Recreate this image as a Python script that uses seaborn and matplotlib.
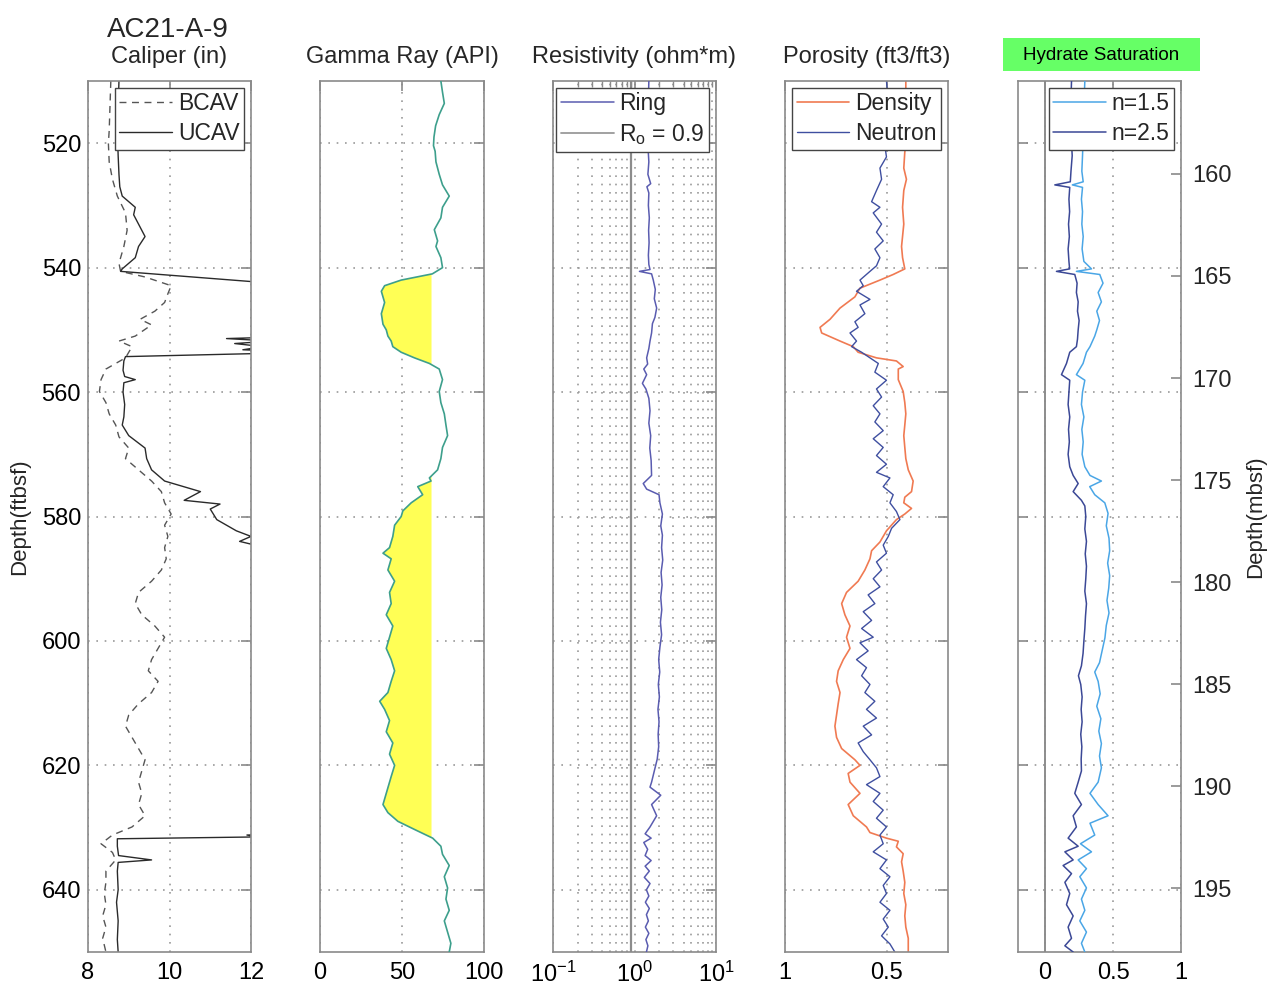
import numpy as np
import matplotlib
matplotlib.use("Agg")
import matplotlib.pyplot as plt
import seaborn as sns
from matplotlib.patches import Rectangle
from matplotlib.lines import Line2D

# ---------------------------------------------------------------- data
well_name = "AC21-A-9"

# Caliper (in)
ucav_depth = [510, 514, 518, 522, 525, 527, 528.5, 530.3, 531.5, 533, 535, 536.6, 538.4, 540.2, 540.6,
              543.0, 551.0, 551.4, 551.8, 552.2, 552.7, 553.2, 553.6, 554.3,
              555, 556.5, 557.5, 558, 558.5, 560, 562, 564, 565.3, 567, 569, 570.7, 572.5, 574.3,
              576, 577.4, 578, 578.8, 580.5, 582.3, 583.2, 584, 584.6, 585.2,
              631.0, 631.2, 631.5, 631.8, 633, 634.5, 635.2, 635.6, 637, 640, 642, 645, 648, 650]
ucav_val = [8.76, 8.74, 8.72, 8.74, 8.76, 8.78, 8.84, 9.16, 9.12, 9.24, 9.40, 9.24, 9.16, 8.84, 8.80,
            13.5, 13.5, 11.4, 12.5, 11.6, 12.3, 11.8, 13.5, 8.92,
            8.88, 8.86, 8.90, 9.16, 8.88, 8.86, 8.90, 8.88, 8.84, 9.00, 9.40, 9.44, 9.56, 9.88,
            10.76, 10.36, 11.24, 11.00, 11.16, 11.64, 12.00, 11.72, 12.10, 13.5,
            13.5, 11.9, 12.2, 8.72, 8.72, 8.75, 9.56, 8.74, 8.72, 8.74, 8.70, 8.74, 8.72, 8.74]

bcav_depth = [510, 514, 518, 520, 523, 525.8, 528.5, 531.2, 534, 536.6, 539.3, 540.6, 541.5, 542.9,
              544.2, 545.6, 547, 548.3, 549.2, 551, 551.8, 552.7, 554.5, 556.3, 558, 559.9, 561.7,
              563.5, 565.3, 567.2, 569, 570.7, 572.5, 574.3, 576, 577.8, 579.6, 581.4, 583.2, 585,
              586.8, 588.6, 590.4, 592.2, 594, 595.8, 597.6, 599.4, 601.2, 603, 604.8, 606.5, 608.3,
              610.1, 611.9, 613.7, 615.5, 617.3, 619.1, 620.9, 622.7, 624.5, 626.3, 628.1, 629.9,
              631.2, 632.6, 634, 635.2, 637, 638.8, 640.6, 642.4, 644.2, 646, 647.8, 650]
bcav_val = [8.56, 8.54, 8.52, 8.50, 8.52, 8.60, 8.72, 8.92, 8.96, 8.88, 8.76, 8.80, 9.40, 10.04,
            9.96, 9.88, 9.64, 9.28, 9.56, 9.16, 8.76, 9.08, 8.92, 8.44, 8.32, 8.28, 8.44,
            8.52, 8.68, 8.76, 9.00, 8.92, 9.24, 9.56, 9.80, 9.88, 10.04, 9.88, 9.96, 9.88,
            9.92, 9.80, 9.56, 9.24, 9.16, 9.32, 9.64, 9.88, 9.72, 9.56, 9.48, 9.72, 9.56,
            9.24, 9.00, 8.92, 9.08, 9.24, 9.40, 9.32, 9.24, 9.32, 9.24, 9.40, 9.08,
            8.60, 8.32, 8.60, 8.68, 8.44, 8.44, 8.40, 8.44, 8.36, 8.44, 8.36, 8.44]

# Gamma ray (API)
gr_depth = [510, 511.8, 513.6, 515.4, 517.2, 519, 520.4, 521.3, 523, 525, 526.7, 528.5, 530.3, 532,
            533.9, 535.7, 536.6, 538.4, 540, 541, 542, 542.9, 543.8, 545.6, 547.4, 549.1, 550, 551,
            551.8, 552.7, 553.6, 554.5, 555.4, 556.3, 558, 559.9, 561.7, 563.5, 565.3, 567, 568.9,
            570.7, 572.5, 573.8, 574.3, 575.2, 576.5, 577.8, 579.1, 580, 581.4, 583.2, 585, 585.9,
            586.8, 588.6, 590.4, 592.2, 594, 595.8, 597.6, 599.4, 601.2, 603, 604.8, 606.5, 608.3,
            609.7, 611, 612.8, 614.6, 616.4, 618.2, 620, 621.8, 623.6, 625.4, 626.3, 627.6, 629,
            630.3, 631.7, 633, 634.3, 636.1, 637.9, 639.7, 641.5, 643.3, 645, 646.8, 648.6, 650]
gr_val = [73.7, 74.7, 75.8, 72.7, 70.5, 69.5, 69.2, 70.2, 70.7, 72.7, 74.7, 78.8, 74.7, 73.7,
          69.7, 71.7, 70.7, 73.7, 74.7, 68.5, 49.5, 39.4, 37.4, 39.4, 37.4, 38.4, 40.4, 41.4,
          43.4, 44.4, 49.5, 57.6, 66.7, 72.7, 74.7, 72.7, 73.7, 75.8, 76.8, 77.8, 74.7,
          73.7, 71.7, 66.7, 67.7, 59.6, 62.6, 55.6, 50.5, 49.5, 45.5, 44.4, 42.4, 38.4,
          43.4, 41.4, 45.5, 42.4, 43.4, 40.4, 44.4, 42.4, 40.4, 43.4, 45.5, 43.4, 41.4,
          36.4, 39.4, 42.4, 40.4, 44.4, 42.4, 45.5, 43.4, 41.4, 39.4, 38.4, 41.4, 47.5,
          57.6, 68.7, 73.7, 74.7, 78.8, 75.8, 77.8, 76.8, 78.8, 75.8, 77.8, 79.8, 78.8]
gr_sand_cutoff = 68

# Ring resistivity (ohm*m) and background resistivity
ring_depth = [510, 513, 516, 519, 521, 523, 525, 526.5, 527, 528, 530, 532, 534, 536, 538, 539.5,
              540.3, 540.6, 541, 542, 543.5, 545, 546.5, 548, 549, 550.5, 551.8, 553, 554.5, 555.5,
              556.3, 557.2, 558.6, 559.5, 561, 563, 565, 567, 569, 571, 573.4, 574.7, 575.6, 576.5,
              577.8, 579.6, 581.5, 583, 585, 587, 589, 591, 593, 595, 597, 599, 601, 603, 605, 607,
              609, 611, 613, 615, 617, 619, 620.9, 622.7, 623.5, 624.8, 626.3, 628.1, 629.9, 631,
              631.7, 632.4, 633.5, 634.5, 635.3, 636.2, 637, 638, 639, 640, 641, 642, 643, 644, 645,
              646, 647, 648, 649, 650]
ring_val = [1.50, 1.48, 1.52, 1.50, 1.47, 1.50, 1.46, 1.58, 1.42, 1.50, 1.48, 1.52, 1.49, 1.51, 1.48, 1.50,
            1.55, 1.15, 1.62, 1.70, 1.80, 1.75, 1.87, 1.78, 1.66, 1.62, 1.55, 1.50, 1.41, 1.45,
            1.30, 1.41, 1.25, 1.38, 1.50, 1.55, 1.50, 1.58, 1.54, 1.60, 1.62, 1.28, 1.41, 2.00,
            2.05, 2.20, 2.10, 2.20, 2.15, 2.22, 2.12, 2.18, 2.10, 2.16, 2.08, 2.15, 2.05, 1.98, 2.04, 1.96,
            2.02, 1.94, 2.00, 1.95, 1.98, 1.90, 1.75, 1.62, 1.55, 2.10, 1.62, 1.87, 1.55, 1.35,
            1.60, 1.30, 1.45, 1.35, 1.60, 1.35, 1.52, 1.32, 1.55, 1.40, 1.50, 1.36, 1.52, 1.40, 1.48,
            1.36, 1.50, 1.38, 1.46, 1.40]
ro_value = 0.9

# Porosity (ft3/ft3)
dens_depth = [510, 513, 516, 518.7, 521.4, 524, 525.8, 527.6, 530.3, 533, 536.6, 538.4, 540.2, 541.1,
              542, 543.3, 544.7, 546.5, 548.3, 549.6, 550.5, 551.8, 552.7, 553.6, 554.5, 555, 555.9,
              556.3, 558, 559.9, 561.7, 563.5, 565.3, 567, 568.9, 570.7, 572.5, 574.3, 576, 576.9,
              577.8, 578.7, 579.6, 580.5, 582.3, 584.1, 585.5, 586.8, 588.6, 590.4, 592.2, 594,
              595.8, 597.6, 599.4, 601.2, 603, 604.8, 606.5, 608.3, 610.1, 611.9, 613.7, 615.5,
              617.3, 619.1, 620, 621.3, 622.7, 624.5, 626.3, 628.1, 629.9, 630.8, 631.7, 632.2,
              633.1, 634.2, 635.5, 637, 638.8, 640.6, 642.4, 644.2, 646, 647.8, 650]
dens_val = [0.407, 0.407, 0.404, 0.395, 0.412, 0.417, 0.404, 0.417, 0.423, 0.417, 0.428, 0.423, 0.412, 0.469,
            0.534, 0.632, 0.657, 0.730, 0.779, 0.828, 0.820, 0.730, 0.665, 0.641, 0.551, 0.453, 0.420,
            0.444, 0.444, 0.420, 0.412, 0.407, 0.412, 0.417, 0.412, 0.407, 0.395, 0.371, 0.379, 0.412,
            0.417, 0.379, 0.412, 0.453, 0.502, 0.534, 0.575, 0.583, 0.608, 0.641, 0.698, 0.722,
            0.706, 0.681, 0.698, 0.681, 0.714, 0.739, 0.747, 0.730, 0.739, 0.747, 0.755, 0.747,
            0.722, 0.657, 0.632, 0.690, 0.681, 0.632, 0.690, 0.665, 0.600, 0.583, 0.502, 0.444,
            0.453, 0.420, 0.428, 0.420, 0.412, 0.417, 0.407, 0.412, 0.407, 0.395, 0.395]

neut_depth = [510, 513.3, 516.9, 520.4, 522.2, 524, 525.8, 527.6, 529.4, 530.3, 531.2, 533, 534.3, 535.7,
              537, 538.4, 539.7, 540.6, 542, 542.9, 543.8, 545.1, 546, 547.4, 548.7, 549.6, 550.5,
              551.8, 552.7, 553.6, 554.5, 555.4, 556.8, 558.1, 559.5, 560.8, 562.2, 563.5, 564.8,
              566.2, 567.5, 568.9, 570.2, 571.6, 572.9, 573.8, 575.2, 576.5, 577.8, 579.2, 580.5,
              581.9, 583.2, 584.6, 585.9, 587.3, 588.6, 590, 591.3, 592.6, 594, 595.3, 596.7, 598,
              599.4, 600.3, 601.6, 603, 604.3, 605.6, 607, 608.3, 609.7, 611, 612.4, 613.7, 615.1,
              616.4, 617.8, 619.1, 620.4, 621.8, 623.1, 624.5, 625.8, 627.2, 628.5, 629.9, 631.2,
              632.6, 633.9, 635.2, 636.6, 637.9, 639.3, 640.6, 642, 643.3, 644.7, 646, 647.4, 648.7, 650]
neut_val = [0.502, 0.493, 0.510, 0.510, 0.502, 0.534, 0.526, 0.551, 0.575, 0.534, 0.567, 0.526, 0.551, 0.518,
            0.559, 0.534, 0.551, 0.583, 0.632, 0.616, 0.649, 0.583, 0.632, 0.608, 0.657, 0.641, 0.681,
            0.649, 0.673, 0.624, 0.583, 0.542, 0.559, 0.502, 0.551, 0.526, 0.567, 0.534, 0.559,
            0.518, 0.567, 0.518, 0.551, 0.502, 0.551, 0.485, 0.518, 0.469, 0.485, 0.453, 0.436,
            0.477, 0.493, 0.518, 0.502, 0.551, 0.526, 0.567, 0.534, 0.592, 0.559, 0.616, 0.575, 0.624,
            0.567, 0.632, 0.592, 0.649, 0.600, 0.624, 0.583, 0.608, 0.559, 0.600, 0.551, 0.616, 0.575,
            0.641, 0.616, 0.583, 0.551, 0.534, 0.600, 0.534, 0.567, 0.518, 0.551, 0.502, 0.534,
            0.518, 0.567, 0.502, 0.534, 0.485, 0.518, 0.502, 0.534, 0.485, 0.518, 0.493, 0.526, 0.485, 0.461]

# Hydrate saturation for two saturation exponents
sh25_depth = [510, 513, 516, 519, 522, 524.5, 526.2, 526.7, 527.1, 529, 531, 533, 535, 537, 539, 540.2,
              540.6, 541.1, 542.5, 544, 545.5, 547, 548.5, 550, 551.5, 552.7, 553.6, 555.4, 557.2,
              558.1, 560, 562, 564, 566, 568, 570, 572, 573.4, 574.7, 576, 577.4, 578.3, 580, 582,
              584, 586, 588, 590, 592, 594, 596, 598, 600, 602, 604, 605.6, 607, 609, 611, 613, 615,
              617, 619, 620.9, 622.7, 624.5, 626.3, 628.1, 629.9, 631.7, 633, 633.9, 635.2, 636.1,
              637.4, 638.8, 640.6, 642.4, 644.2, 646, 647.8, 649, 650]
sh25_val = [0.194, 0.190, 0.197, 0.192, 0.199, 0.190, 0.185, 0.071, 0.181, 0.175, 0.180, 0.172, 0.178, 0.169, 0.175, 0.180,
            0.083, 0.218, 0.235, 0.230, 0.243, 0.238, 0.250, 0.243, 0.238, 0.230, 0.181, 0.157, 0.120,
            0.181, 0.175, 0.169, 0.181, 0.172, 0.178, 0.169, 0.181, 0.206, 0.243, 0.206, 0.267, 0.292, 0.299, 0.292,
            0.304, 0.295, 0.304, 0.299, 0.292, 0.304, 0.297, 0.292, 0.285, 0.279, 0.267, 0.245, 0.262, 0.272, 0.265, 0.272, 0.262,
            0.270, 0.265, 0.267, 0.243, 0.218, 0.267, 0.206, 0.230, 0.169, 0.243, 0.145, 0.206, 0.132,
            0.194, 0.145, 0.181, 0.157, 0.206, 0.169, 0.194, 0.145, 0.206]

sh15_depth = [510, 513, 516, 519, 522, 524.5, 526.2, 526.7, 527.1, 529, 531, 533, 535, 537, 539, 540.2,
              540.6, 541.1, 542.5, 544, 545.5, 547, 548.5, 550, 551, 552.7, 553.6, 555.4, 557.2,
              558.1, 560, 562, 564, 566, 568, 570, 572, 573.4, 574.3, 575.2, 576.5, 577.8, 579.5,
              581.5, 583.5, 585.5, 587.5, 589.5, 591.5, 593.5, 595.5, 597.5, 599.5, 601.5, 603.5, 605,
              606.5, 608.5, 610.5, 612.5, 614.5, 616.5, 618.5, 620.4, 622.7, 624.5, 626.3, 628.1,
              629.3, 631.2, 632.6, 633.9, 635.2, 636.6, 637.9, 639.7, 641.5, 643.3, 645, 646.8, 648.6, 650]
sh15_val = [0.292, 0.287, 0.295, 0.280, 0.275, 0.270, 0.280, 0.200, 0.275, 0.267, 0.275, 0.270, 0.280, 0.272, 0.285, 0.341,
            0.230, 0.402, 0.426, 0.390, 0.414, 0.380, 0.400, 0.380, 0.365, 0.330, 0.304, 0.279, 0.230,
            0.292, 0.275, 0.267, 0.285, 0.270, 0.280, 0.272, 0.292, 0.330, 0.414, 0.328, 0.365, 0.439, 0.463,
            0.450, 0.470, 0.475, 0.460, 0.475, 0.468, 0.455, 0.470, 0.450, 0.440, 0.420, 0.400, 0.365,
            0.390, 0.405, 0.380, 0.410, 0.395, 0.414, 0.400, 0.414, 0.390, 0.330, 0.390, 0.463,
            0.330, 0.365, 0.260, 0.341, 0.243, 0.304, 0.255, 0.304, 0.267, 0.292, 0.255, 0.304, 0.267, 0.292]

depth_ticks_ft = [520, 540, 560, 580, 600, 620, 640]
depth_ticks_m = [160, 165, 170, 175, 180, 185, 190, 195]
FT_TO_M = 0.3048

# ---------------------------------------------------------------- style
sns.set_style("white")
plt.rcParams["font.family"] = ["Liberation Sans", "DejaVu Sans"]
plt.rcParams["mathtext.fontset"] = "custom"
plt.rcParams["mathtext.rm"] = "Liberation Sans"
plt.rcParams["mathtext.it"] = "Liberation Sans"

W, H = 1267, 986
fig = plt.figure(figsize=(W / 100, H / 100), dpi=100)
fig.patch.set_facecolor("white")

SPINE = "#8a8a8a"
GRID = "#9a9a9a"
TICKFS = 17


def px_axes(x0, x1, y0=81, y1=952):
    return fig.add_axes([x0 / W, 1 - y1 / H, (x1 - x0) / W, (y1 - y0) / H])


def style_axes(ax, left_labels=False):
    ax.set_ylim(650, 510)
    ax.set_yticks(depth_ticks_ft)
    for s in ax.spines.values():
        s.set_color(SPINE)
        s.set_linewidth(1.2)
    ax.tick_params(axis="both", which="both", direction="in", top=True, right=True,
                   color=SPINE, labelsize=TICKFS, labelcolor="black")
    ax.tick_params(axis="both", which="major", length=7, width=1.2)
    ax.tick_params(axis="x", which="major", pad=7)
    ax.tick_params(axis="y", which="major", pad=5, labelleft=left_labels)
    ax.grid(True, which="major", linestyle=(0, (1, 4)), color=GRID, linewidth=1.2)
    ax.set_xlabel("")
    ax.set_ylabel("")


def add_legend(ax, handles=None):
    kw = dict(loc="upper right", frameon=True, fancybox=False, framealpha=1,
              fontsize=16.5, handlelength=2.3, handletextpad=0.25, borderaxespad=0.3,
              labelspacing=0.3, borderpad=0.2)
    leg = ax.legend(handles=handles, **kw) if handles else ax.legend(**kw)
    leg.get_frame().set_edgecolor("#444444")
    leg.get_frame().set_linewidth(1.0)
    leg.set_zorder(10)
    return leg


# ---------------------------------------------------------------- caliper
ax1 = px_axes(88, 251)
sns.lineplot(x=bcav_val, y=bcav_depth, ax=ax1, sort=False, estimator=None,
             color="#555555", lw=1.0, linestyle=(0, (5, 4)), label="BCAV")
sns.lineplot(x=ucav_val, y=ucav_depth, ax=ax1, sort=False, estimator=None,
             color="#2a2a2a", lw=1.0, label="UCAV")
ax1.set_xlim(8, 12)
ax1.set_xticks([8, 10, 12])
ax1.set_xticklabels(["8", "10", "12"])
style_axes(ax1, left_labels=True)
ax1.set_ylabel("Depth(ftbsf)", fontsize=16, labelpad=8)
ax1.set_title("Caliper (in)", fontsize=17, pad=13)
add_legend(ax1)
fig.text(168 / W, 1 - 37 / H, well_name, ha="center", va="baseline", fontsize=20)

# ---------------------------------------------------------------- gamma ray
ax2 = px_axes(320, 484)
gr_arr = np.array(gr_val)
dep_arr = np.array(gr_depth)
ax2.fill_betweenx(dep_arr, gr_arr, gr_sand_cutoff, where=gr_arr < gr_sand_cutoff,
                  interpolate=True, color="#ffff55", lw=0, zorder=1)
sns.lineplot(x=gr_val, y=gr_depth, ax=ax2, sort=False, estimator=None,
             color="#3d9f8c", lw=1.2, zorder=3)
ax2.set_xlim(0, 100)
ax2.set_xticks([0, 50, 100])
ax2.set_xticklabels(["0", "50", "100"])
style_axes(ax2)
ax2.set_title("Gamma Ray (API)", fontsize=17, pad=13)

# ---------------------------------------------------------------- resistivity
ax3 = px_axes(553, 716)
ax3.set_xscale("log")
sns.lineplot(x=ring_val, y=ring_depth, ax=ax3, sort=False, estimator=None,
             color="#5a5cb0", lw=1.1, label="Ring", zorder=3)
ax3.axvline(ro_value, color="#8c8c8c", lw=1.6, zorder=2)
ax3.set_xlim(0.1, 10)
ax3.set_xticks([0.1, 1, 10])
ax3.set_xticklabels([r"$10^{-1}$", r"$10^{0}$", r"$10^{1}$"])
style_axes(ax3)
ax3.tick_params(axis="x", which="minor", length=4, width=1, direction="in", top=True)
ax3.grid(True, which="minor", axis="x", linestyle=(0, (1, 4)), color=GRID, linewidth=1.2)
ax3.set_title("Resistivity (ohm*m)", fontsize=17, pad=13)
res_handles = [Line2D([], [], color="#5a5cb0", lw=1.1, label="Ring"),
               Line2D([], [], color="#9a9a9a", lw=1.3, label=r"R$_\mathrm{o}$ = 0.9")]
add_legend(ax3, res_handles)

# ---------------------------------------------------------------- porosity
ax4 = px_axes(785, 948)
sns.lineplot(x=dens_val, y=dens_depth, ax=ax4, sort=False, estimator=None,
             color="#f07a52", lw=1.2, label="Density")
sns.lineplot(x=neut_val, y=neut_depth, ax=ax4, sort=False, estimator=None,
             color="#3f4fa0", lw=1.0, label="Neutron")
ax4.set_xlim(1, 0.2)
ax4.set_xticks([1, 0.5])
ax4.set_xticklabels(["1", "0.5"])
style_axes(ax4)
ax4.set_title("Porosity (ft3/ft3)", fontsize=17, pad=13)
add_legend(ax4)

# ---------------------------------------------------------------- hydrate saturation
ax5 = px_axes(1018, 1181)
ax5.axvline(0, color="#8c8c8c", lw=1.4, zorder=2)
sns.lineplot(x=sh15_val, y=sh15_depth, ax=ax5, sort=False, estimator=None,
             color="#4aa6e6", lw=1.1, label="n=1.5", zorder=3)
sns.lineplot(x=sh25_val, y=sh25_depth, ax=ax5, sort=False, estimator=None,
             color="#3b4896", lw=1.1, label="n=2.5", zorder=4)
ax5.set_xlim(-0.2, 1)
ax5.set_xticks([0, 0.5, 1])
ax5.set_xticklabels(["0", "0.5", "1"])
style_axes(ax5)
ax5.tick_params(axis="y", which="both", right=False)
add_legend(ax5)

ax5r = ax5.twinx()
ax5r.set_ylim(650 * FT_TO_M, 510 * FT_TO_M)
ax5r.set_yticks(depth_ticks_m)
ax5r.set_yticklabels([str(v) for v in depth_ticks_m])
ax5r.tick_params(axis="y", direction="in", length=7, width=1.2, color=SPINE,
                 labelsize=TICKFS, pad=8)
for s in ax5r.spines.values():
    s.set_visible(False)
ax5r.grid(False)
ax5r.set_ylabel("Depth(mbsf)", fontsize=16, labelpad=10)

# title badge for the saturation track
fig.patches.append(Rectangle((1003 / W, 1 - 71 / H), 197 / W, 33 / H,
                             transform=fig.transFigure, facecolor="#66ff66",
                             edgecolor="none", zorder=0))
fig.text(1101.5 / W, 1 - 55 / H, "Hydrate Saturation", ha="center", va="center",
         fontsize=13.5, color="black")

fig.savefig("out.png", dpi=100, facecolor="white")
